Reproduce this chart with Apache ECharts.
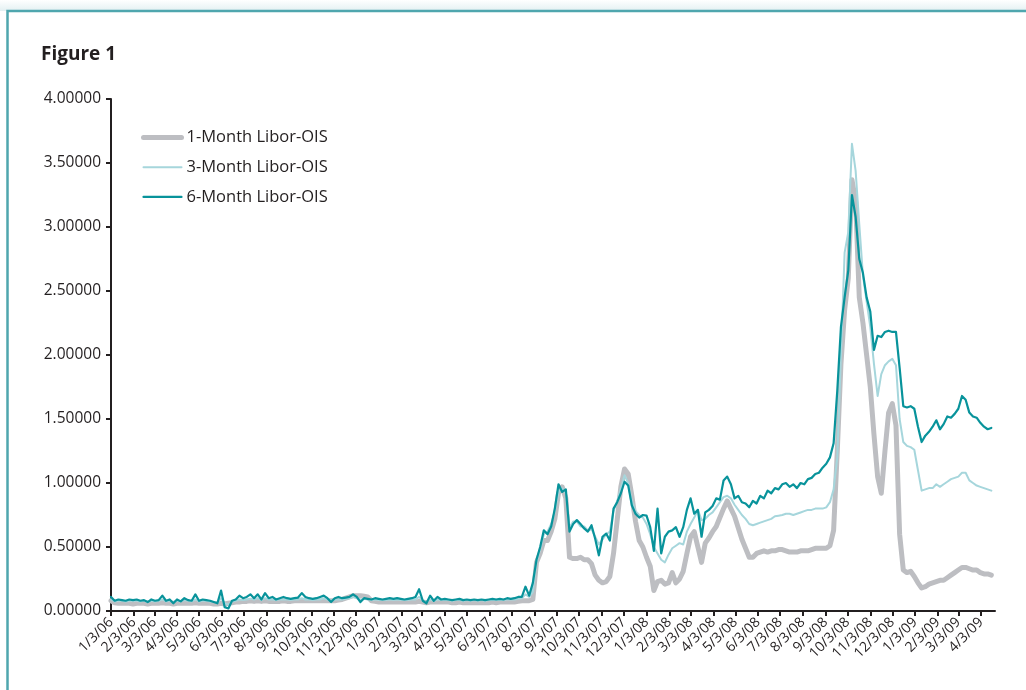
<!DOCTYPE html>
<html>
<head>
<meta charset="utf-8">
<script src="https://cdn.jsdelivr.net/npm/echarts@6/dist/echarts.min.js"></script>
<style>
html,body{margin:0;padding:0;background:#fff;}
#chart{width:1026px;height:690px;}
</style>
</head>
<body>
<div id="chart"></div>
<script>
// Sampling: one value every 5 calendar days starting 1/3/06
const startDate = '1/3/06', endDate = '4/22/09', stepDays = 5;

const tickLabels = ['1/3/06','2/3/06','3/3/06','4/3/06','5/3/06','6/3/06','7/3/06','8/3/06','9/3/06','10/3/06','11/3/06','12/3/06',
'1/3/07','2/3/07','3/3/07','4/3/07','5/3/07','6/3/07','7/3/07','8/3/07','9/3/07','10/3/07','11/3/07','12/3/07',
'1/3/08','2/3/08','3/3/08','4/3/08','5/3/08','6/3/08','7/3/08','8/3/08','9/3/08','10/3/08','11/3/08','12/3/08',
'1/3/09','2/3/09','3/3/09','4/3/09'];

const seriesNames = ['1-Month Libor-OIS','3-Month Libor-OIS','6-Month Libor-OIS'];

const oneMonth = [
0.08,0.065,0.06,0.06,0.06,0.06,0.055,0.06,0.06,0.06,
0.055,0.06,0.06,0.06,0.065,0.06,0.06,0.055,0.06,0.06,
0.06,0.06,0.06,0.065,0.06,0.06,0.06,0.06,0.055,0.055,
0.06,0.055,0.06,0.065,0.07,0.07,0.075,0.075,0.08,0.075,
0.08,0.075,0.08,0.075,0.075,0.075,0.075,0.08,0.075,0.075,
0.08,0.08,0.08,0.08,0.08,0.08,0.08,0.08,0.08,0.08,
0.08,0.08,0.085,0.09,0.10,0.11,0.12,0.12,0.12,0.115,
0.11,0.08,0.075,0.07,0.07,0.07,0.07,0.07,0.07,0.07,
0.07,0.07,0.07,0.07,0.075,0.07,0.065,0.07,0.07,0.07,
0.07,0.07,0.07,0.065,0.065,0.07,0.065,0.065,0.065,0.065,
0.065,0.065,0.065,0.065,0.07,0.065,0.07,0.07,0.07,0.07,
0.07,0.075,0.08,0.08,0.08,0.09,0.38,0.45,0.55,0.55,
0.62,0.72,0.92,0.97,0.88,0.42,0.41,0.41,0.42,0.40,
0.40,0.37,0.28,0.24,0.22,0.23,0.27,0.45,0.71,0.97,
1.11,1.07,0.90,0.70,0.55,0.50,0.42,0.35,0.16,0.23,
0.24,0.21,0.22,0.30,0.22,0.25,0.31,0.45,0.58,0.62,
0.50,0.38,0.53,0.57,0.62,0.66,0.73,0.80,0.86,0.80,
0.74,0.65,0.56,0.49,0.42,0.42,0.45,0.46,0.47,0.46,
0.47,0.47,0.48,0.48,0.47,0.46,0.46,0.46,0.47,0.47,
0.47,0.48,0.49,0.49,0.49,0.49,0.51,0.63,1.25,1.93,
2.35,2.60,3.37,3.20,2.45,2.25,2.00,1.75,1.38,1.05,
0.92,1.25,1.55,1.62,1.45,0.60,0.32,0.30,0.31,0.27,
0.22,0.18,0.19,0.21,0.22,0.23,0.24,0.24,0.26,0.28,
0.30,0.32,0.34,0.34,0.33,0.32,0.32,0.30,0.29,0.29,0.28
];

const threeMonth = [
0.09,0.075,0.08,0.08,0.075,0.08,0.08,0.08,0.075,0.08,
0.07,0.08,0.075,0.08,0.09,0.075,0.08,0.07,0.08,0.075,
0.085,0.08,0.075,0.09,0.075,0.08,0.08,0.075,0.07,0.065,
0.10,0.06,0.05,0.075,0.08,0.09,0.085,0.09,0.095,0.09,
0.10,0.085,0.10,0.09,0.09,0.085,0.09,0.09,0.09,0.085,
0.09,0.09,0.10,0.09,0.09,0.085,0.09,0.09,0.10,0.09,
0.08,0.09,0.09,0.09,0.095,0.10,0.11,0.10,0.09,0.095,
0.09,0.085,0.09,0.085,0.085,0.085,0.09,0.085,0.09,0.085,
0.085,0.085,0.09,0.09,0.11,0.08,0.07,0.09,0.08,0.09,
0.085,0.085,0.085,0.08,0.085,0.085,0.08,0.085,0.08,0.085,
0.08,0.085,0.08,0.085,0.085,0.085,0.085,0.085,0.09,0.09,
0.09,0.095,0.10,0.13,0.11,0.15,0.38,0.48,0.60,0.62,
0.68,0.78,0.93,0.96,0.92,0.65,0.70,0.70,0.66,0.66,
0.63,0.64,0.58,0.52,0.56,0.60,0.62,0.78,0.86,0.96,
1.06,1.00,0.86,0.78,0.75,0.73,0.68,0.60,0.50,0.45,
0.40,0.38,0.44,0.49,0.51,0.53,0.52,0.62,0.68,0.73,
0.79,0.71,0.72,0.75,0.77,0.81,0.85,0.89,0.90,0.88,
0.83,0.79,0.75,0.72,0.68,0.67,0.68,0.69,0.70,0.71,
0.72,0.74,0.745,0.75,0.76,0.76,0.75,0.76,0.77,0.78,
0.79,0.79,0.80,0.80,0.80,0.81,0.85,0.95,1.20,2.00,
2.80,2.96,3.65,3.44,3.02,2.62,2.42,2.22,1.93,1.68,
1.85,1.92,1.95,1.97,1.92,1.50,1.32,1.29,1.28,1.26,
1.10,0.94,0.95,0.96,0.96,0.99,0.97,0.99,1.01,1.03,
1.04,1.05,1.08,1.08,1.02,1.00,0.98,0.97,0.96,0.95,0.94
];

const sixMonth = [
0.11,0.08,0.09,0.085,0.08,0.09,0.085,0.09,0.08,0.085,
0.07,0.09,0.08,0.085,0.12,0.08,0.09,0.06,0.09,0.075,
0.10,0.085,0.08,0.13,0.08,0.09,0.085,0.08,0.07,0.06,
0.16,0.03,0.02,0.08,0.09,0.12,0.10,0.11,0.13,0.10,
0.13,0.09,0.14,0.10,0.11,0.09,0.10,0.11,0.10,0.095,
0.10,0.105,0.14,0.11,0.10,0.095,0.10,0.11,0.12,0.10,
0.07,0.10,0.11,0.10,0.105,0.11,0.13,0.11,0.07,0.10,
0.095,0.09,0.10,0.095,0.09,0.095,0.10,0.095,0.10,0.095,
0.09,0.095,0.10,0.11,0.17,0.08,0.06,0.12,0.08,0.11,
0.09,0.095,0.09,0.085,0.09,0.095,0.085,0.09,0.085,0.09,
0.085,0.09,0.085,0.09,0.095,0.09,0.095,0.09,0.10,0.095,
0.10,0.11,0.11,0.19,0.12,0.22,0.40,0.50,0.63,0.60,
0.66,0.80,0.99,0.93,0.95,0.62,0.68,0.71,0.68,0.645,
0.62,0.67,0.565,0.435,0.58,0.605,0.55,0.80,0.85,0.92,
1.01,0.98,0.825,0.76,0.73,0.75,0.745,0.655,0.47,0.80,
0.45,0.58,0.62,0.63,0.655,0.58,0.655,0.79,0.88,0.76,
0.79,0.58,0.77,0.79,0.82,0.88,0.87,1.02,1.05,0.99,
0.88,0.90,0.85,0.84,0.81,0.86,0.84,0.90,0.88,0.94,
0.92,0.96,0.95,0.99,1.00,0.97,0.99,0.96,1.00,0.99,
1.03,1.04,1.07,1.08,1.12,1.15,1.20,1.31,1.72,2.22,
2.45,2.66,3.25,3.08,2.75,2.64,2.45,2.34,2.04,2.15,
2.14,2.18,2.19,2.18,2.18,1.90,1.60,1.59,1.60,1.58,
1.44,1.32,1.37,1.40,1.44,1.49,1.42,1.46,1.52,1.51,
1.54,1.58,1.68,1.65,1.55,1.52,1.51,1.47,1.44,1.42,1.43
];

// --- build chart ---
// x axis: calendar day number counted from the first date (value axis, so spacing follows real dates)
function toUTC(s) { const p = s.split('/'); return Date.UTC(2000 + (+p[2]), (+p[0]) - 1, +p[1]); }
const DAY = 86400000;
const t0 = toUTC(startDate);
function dayNum(s) { return Math.round((toUTC(s) - t0) / DAY); }
const tickDays = tickLabels.map(dayNum);
const lastDay = dayNum(endDate);
function pairs(arr) { return arr.map((v, i) => [stepDays * i, v]); }

const textColor = '#231f20';
const font = "'Open Sans', 'Noto Sans', sans-serif";
const colors = ['#bdbec2', '#a6d6dc', '#08939b'];
const widths = [5, 2, 2.2];

const chart = echarts.init(document.getElementById('chart'), null, { renderer: 'canvas' });
chart.setOption({
  animation: false,
  backgroundColor: '#ffffff',
  textStyle: { fontFamily: font, color: textColor },
  graphic: [
    { type: 'rect', shape: { x: 0, y: 0, width: 1026, height: 11 }, silent: true,
      style: { fill: new echarts.graphic.LinearGradient(0, 0, 0, 1, [{ offset: 0, color: '#ffffff' }, { offset: 1, color: '#e3f0f2' }]) } },
    { type: 'rect', shape: { x: 7.5, y: 11, width: 1030, height: 700 }, silent: true,
      style: { fill: 'none', stroke: '#4fa6ae', lineWidth: 2.5 } }
  ],
  title: {
    text: 'Figure 1', left: 36, top: 40,
    textStyle: { fontFamily: font, fontSize: 19, fontWeight: 'bold', color: textColor }
  },
  legend: {
    orient: 'vertical', left: 136, top: 124,
    itemWidth: 38, itemHeight: 14, itemGap: 12.7,
    itemStyle: { opacity: 0 },
    textStyle: { fontFamily: font, fontSize: 16.5, color: textColor },
    data: seriesNames.map((n, k) => ({ name: n, lineStyle: { width: widths[k], color: colors[k], cap: 'round' } }))
  },
  grid: { left: 111, right: 31, top: 99, bottom: 79, containLabel: false },
  xAxis: {
    type: 'value',
    min: 0,
    max: lastDay,
    splitLine: { show: false },
    axisLine: { show: true, onZero: false, lineStyle: { color: textColor, width: 2 } },
    axisTick: { show: true, length: 5, lineStyle: { color: textColor, width: 2 }, customValues: tickDays },
    axisLabel: {
      customValues: tickDays, rotate: 45, margin: 9,
      fontFamily: font, fontSize: 14, color: textColor,
      formatter: function (val) {
        const k = tickDays.indexOf(Math.round(val));
        return k >= 0 ? tickLabels[k] : '';
      }
    }
  },
  yAxis: {
    type: 'value', min: 0, max: 4, interval: 0.5,
    splitLine: { show: false },
    axisLine: { show: true, lineStyle: { color: textColor, width: 2 } },
    axisTick: { show: true, length: 5, lineStyle: { color: textColor, width: 2 } },
    axisLabel: { fontFamily: font, fontSize: 15.5, color: textColor, margin: 10,
      formatter: v => v.toFixed(5) }
  },
  series: seriesNames.map((n, k) => ({
    name: n, type: 'line', data: pairs([oneMonth, threeMonth, sixMonth][k]),
    symbol: 'none', showSymbol: false, color: colors[k],
    lineStyle: { width: widths[k], color: colors[k], cap: 'round', join: 'round' }
  }))
});
</script>
</body>
</html>
